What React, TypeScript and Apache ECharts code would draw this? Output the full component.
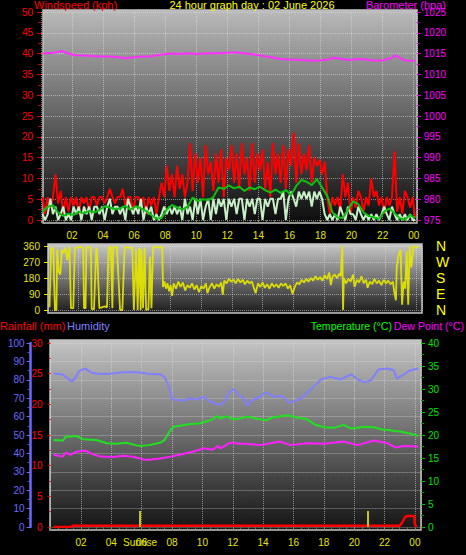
import React, { useEffect, useRef } from 'react';
import * as echarts from 'echarts';

const TITLE = '24 hour graph day : 02 June 2026';

// Wind: 10-minute samples starting 00:06
const WIND_START = 0.1;
const WIND_STEP = 1 / 6;
const gustValues = [
  5.5, 1.5, 5.5, 3, 5.5, 11,
  4, 7, 1.5, 5.5, 2, 5.5,
  3.5, 5.5, 1.5, 5.5, 4, 5.5,
  2, 5.5, 5.5, 3.5, 5.5, 5.5,
  4, 5.5, 7.5, 5.5, 4, 5.5,
  5.5, 7.5, 3.5, 5.5, 5.5, 2,
  5.5, 5.5, 4, 5.5, 1.5, 5.5,
  3.5, 5.5, 1.5, 5.5, 9, 5.5,
  13, 7, 11, 5.5, 13, 7.5,
  11, 5.5, 9, 18.5, 7, 16,
  9, 15, 5.5, 18, 11, 14,
  7, 16, 9, 17, 5.5, 15,
  12, 18, 9, 16, 7.5, 18.5,
  11, 15, 7, 18.5, 9, 16,
  12, 17, 7.5, 14, 5.5, 18.5,
  11, 16, 9, 18, 7.5, 17,
  13, 21, 9, 18.5, 11, 16,
  12, 18, 9, 15, 13, 14.5,
  11, 14, 5.5, 1.5, 5.5, 3.5,
  5.5, 2, 11, 5.5, 9, 1.5,
  5.5, 3, 7, 5.5, 2, 5.5,
  3.5, 10, 5.5, 7, 3.5, 5.5,
  1.5, 5.5, 3.5, 5.5, 16.5, 2,
  5.5, 1.5, 7, 5.5, 3, 5.5,
  0.5,
];
const speedValues = [
  1.4, 0, 1.4, 5.1, 1.4, 3.2,
  0, 1.4, 3.2, 0, 1.4, 0,
  3.2, 1.4, 3.2, 0, 3.2, 1.4,
  3.2, 0, 3.2, 3.2, 1.4, 3.2,
  0, 3.2, 5.1, 1.4, 3.2, 3.2,
  1.4, 3.2, 0, 5.1, 3.2, 1.4,
  3.2, 1.4, 5.1, 0, 3.2, 1.4,
  3.2, 0, 1.4, 0, 1.4, 3.2,
  1.4, 3.2, 1.4, 3.2, 1.4, 3.2,
  0, 5.1, 1.4, 3.2, 0, 5.1,
  1.4, 5.1, 0, 3.2, 5.1, 0,
  5.1, 1.4, 5.1, 3.2, 5.1, 0,
  5.1, 3.2, 5.1, 1.4, 5.1, 5.1,
  0, 5.1, 3.2, 5.1, 1.4, 5.1,
  5.1, 0, 5.1, 3.2, 5.1, 5.1,
  1.4, 5.1, 5.1, 6.8, 0, 5.1,
  6.8, 5.1, 3.2, 6.8, 5.1, 6.8,
  5.1, 6.8, 3.2, 6.8, 5.1, 6.8,
  5.1, 1.4, 0, 1.4, 0, 1.4,
  0, 3.2, 1.4, 0, 3.2, 1.4,
  1.4, 0, 3.2, 1.4, 0, 1.4,
  0, 1.4, 0, 1.4, 0, 1.4,
  3.2, 1.4, 0, 3.2, 1.4, 0,
  1.4, 0, 1.4, 0, 1.4, 0,
  0,
];
// Average wind: 20-minute samples starting 00:06
const AVG_STEP = 1 / 3;
const avgValues = [
  2.0, 3.2, 3.5, 1.8, 1.0, 1.5, 1.2, 2.0, 1.6, 2.2, 1.8, 2.4,
  3.3, 3.0, 2.6, 2.8, 3.4, 2.5, 3.3, 2.8, 2.2, 1.2, 0.3, 0.5,
  2.5, 3.6, 3.0, 2.5, 3.2, 5.4, 4.5, 5.0, 4.8, 5.5, 7.8, 7.5,
  8.3, 7.6, 8.0, 7.0, 7.8, 7.4, 8.0, 7.2, 6.6, 7.3, 6.5, 7.2,
  6.0, 8.2, 9.6, 9.2, 8.4, 9.8, 7.8, 5.8, 1.8, 0.6, 0.5, 2.5,
  4.5, 3.8, 1.8, 1.0, 0.6, 0.3, 2.0, 2.8, 1.6, 0.4, 0.1, 1.2,
  0.5,
];
const baroPoints: [number, number][] = [
  [0.1, 1015.0], [0.8, 1015.2], [1.4, 1015.6], [1.6, 1015.2], [2.0, 1014.8], [2.3, 1014.6],
  [3.0, 1014.5], [3.8, 1014.3], [4.5, 1014.3], [5.0, 1014.1], [5.4, 1013.9], [6.0, 1014.1],
  [6.4, 1014.3], [7.0, 1014.3], [7.5, 1014.6], [8.0, 1014.9], [8.5, 1015.0], [9.0, 1014.9],
  [9.5, 1015.1], [10.0, 1014.9], [10.5, 1015.0], [11.0, 1015.1], [11.5, 1015.1], [12.0, 1015.2],
  [12.4, 1015.3], [13.0, 1015.1], [13.5, 1014.9], [14.0, 1014.6], [14.5, 1014.3], [15.0, 1014.0],
  [15.4, 1013.7], [16.0, 1013.6], [16.5, 1013.5], [17.0, 1013.4], [17.5, 1013.3], [18.0, 1013.4],
  [18.5, 1013.6], [18.8, 1014.0], [19.2, 1013.8], [19.6, 1013.5], [20.0, 1013.5], [20.5, 1013.7],
  [21.0, 1013.5], [21.5, 1013.3], [22.0, 1013.4], [22.5, 1013.8], [22.8, 1014.6], [23.1, 1014.0],
  [23.3, 1013.5], [23.7, 1013.3], [24.1, 1013.3],
];
const dirPoints: [number, number][] = [
  [0.1, 15], [0.2, 350], [0.35, 345], [0.45, 0], [0.55, 0], [0.6, 340], [0.7, 215], [0.8, 200],
  [0.9, 340], [1.0, 320], [1.15, 350], [1.25, 280], [1.4, 355], [1.5, 10], [1.65, 10], [1.75, 350],
  [2.0, 352], [2.2, 355], [2.3, 345], [2.35, 10], [2.45, 10], [2.5, 350], [2.7, 355], [2.8, 345],
  [2.85, 5], [3.0, 5], [3.15, 350], [3.2, 340], [3.35, 10], [3.5, 15], [3.7, 20], [3.85, 15],
  [3.95, 350], [4.1, 355], [4.2, 10], [4.25, 350], [4.5, 355], [4.7, 0], [4.85, 0], [5.0, 355],
  [5.3, 350], [5.5, 350], [5.6, 0], [5.75, 340], [5.85, 0], [5.95, 350], [6.05, 0], [6.1, 340],
  [6.2, 10], [6.3, 350], [6.4, 0], [6.55, 5], [6.65, 300], [6.75, 10], [6.85, 350], [7.0, 355],
  [7.3, 350], [7.45, 355],
  [7.5, 130], [7.6, 160], [7.7, 120], [7.8, 150], [7.9, 105], [8.0, 140], [8.1, 80], [8.2, 150],
  [8.35, 120], [8.5, 160], [8.65, 130], [8.8, 155], [8.95, 110], [9.1, 140], [9.25, 125], [9.4, 150],
  [9.55, 115], [9.7, 140], [9.85, 100], [10.0, 135], [10.15, 120], [10.3, 150], [10.4, 95], [10.55, 130],
  [10.7, 150], [10.85, 120], [11.0, 145], [11.15, 130], [11.3, 155], [11.4, 85], [11.5, 165], [11.65, 150],
  [11.8, 175], [11.95, 160], [12.1, 170], [12.25, 150], [12.4, 175], [12.55, 155], [12.7, 170], [12.85, 145],
  [13.0, 165], [13.15, 150], [13.3, 160], [13.45, 120], [13.55, 95], [13.7, 150], [13.85, 130], [14.0, 155],
  [14.15, 125], [14.3, 145], [14.45, 120], [14.6, 150], [14.75, 130], [14.9, 145], [15.05, 125], [15.2, 150],
  [15.35, 135], [15.5, 150], [15.65, 120], [15.8, 140], [15.95, 90], [16.1, 130], [16.25, 155], [16.4, 145],
  [16.55, 170], [16.7, 155], [16.85, 175], [17.0, 160], [17.15, 180], [17.3, 165], [17.45, 190], [17.6, 170],
  [17.75, 185], [17.9, 165], [18.05, 195], [18.2, 175], [18.35, 210], [18.45, 140], [18.55, 185], [18.7, 200],
  [18.85, 180], [19.0, 205], [19.1, 190], [19.2, 360], [19.25, 0], [19.3, 180], [19.45, 150], [19.6, 175],
  [19.75, 160], [19.9, 200], [20.0, 130], [20.15, 170], [20.3, 155], [20.45, 190], [20.6, 150], [20.75, 170],
  [20.85, 125], [21.0, 160], [21.15, 145], [21.3, 175], [21.45, 150], [21.6, 165], [21.75, 140], [21.9, 170],
  [22.05, 150], [22.2, 165], [22.35, 145], [22.5, 160], [22.6, 95], [22.7, 55], [22.75, 240], [22.85, 300],
  [23.0, 340], [23.1, 30], [23.2, 160], [23.3, 120], [23.4, 330], [23.5, 30], [23.6, 360], [23.7, 240],
  [23.85, 360], [24.0, 350], [24.15, 355],
];
const humidityPoints: [number, number][] = [
  [0.2, 83.4], [0.8, 82.9], [1.0, 81.6], [1.4, 79], [1.6, 80.7], [1.9, 84.9], [2.3, 86.1], [2.7, 83.8],
  [3.0, 83.4], [3.5, 83.2], [4.1, 83.4], [4.6, 84], [5.2, 84.2], [5.9, 84], [6.5, 83.2], [7.2, 83],
  [7.5, 81.6], [7.6, 80], [7.9, 73.5], [8.0, 69.5], [8.3, 69], [8.8, 68.8], [9.2, 70], [9.6, 69.2],
  [10.1, 70.8], [10.4, 68.6], [10.7, 67.5], [11.0, 66.8], [11.2, 66.3], [11.5, 68.6], [11.8, 74], [12.1, 74.8],
  [12.3, 72.3], [12.7, 70], [13.0, 65.8], [13.2, 68.6], [13.8, 70.8], [14.2, 73.2], [14.7, 70.8], [15.2, 71.2],
  [15.7, 67.6], [16.0, 68], [16.5, 70], [17.1, 74.4], [17.8, 80.2], [18.4, 81.6], [19.1, 80.2], [19.8, 83],
  [20.3, 79.8], [20.7, 78.6], [21.1, 79.8], [21.6, 85.6], [22.2, 86.1], [22.6, 85.2], [22.8, 80.7], [23.2, 82.5],
  [23.6, 84.9], [24.2, 86.1],
];
const temperaturePoints: [number, number][] = [
  [0.2, 18.9], [0.8, 18.8], [1.0, 19.6], [1.7, 19.8], [2.1, 19.1], [3.0, 18.9], [3.7, 18.2], [4.3, 18.1],
  [5.0, 18.3], [5.6, 17.8], [5.9, 17.6], [6.5, 17.8], [7.2, 18.3], [7.5, 18.9], [7.9, 21.1], [8.1, 21.8],
  [8.5, 22.0], [9.2, 22.4], [9.8, 22.5], [10.5, 23.2], [11.0, 24.1], [11.2, 23.6], [11.6, 24.1], [12.0, 23.4],
  [12.5, 23.6], [12.9, 24.0], [13.5, 23.6], [14.2, 23.2], [14.6, 23.8], [15.6, 24.3], [16.2, 23.8], [16.9, 23.4],
  [17.4, 22.3], [18.0, 21.7], [18.7, 21.6], [19.3, 22.2], [19.8, 21.4], [20.7, 21.8], [21.3, 21.7], [21.8, 21.2],
  [22.2, 21.1], [23.1, 20.7], [23.8, 20.2], [24.2, 19.8],
];
const dewPointPoints: [number, number][] = [
  [0.2, 15.7], [0.8, 15.3], [1.0, 16.2], [1.3, 15.7], [1.7, 16.4], [2.3, 16.6], [2.7, 15.9], [3.3, 15.3],
  [4.1, 15.2], [4.8, 15.5], [5.5, 15.2], [6.1, 14.7], [6.5, 14.6], [7.2, 14.9], [7.9, 15.3], [8.5, 15.7],
  [9.4, 16.4], [10.1, 17.1], [10.7, 16.8], [11.0, 17.6], [11.2, 17.1], [11.8, 18.3], [12.5, 18.1], [12.9, 18.1],
  [13.8, 17.8], [15.1, 18.6], [15.8, 17.8], [16.9, 18.2], [18.0, 18.1], [19.3, 18.6], [20.2, 17.8], [21.3, 18.8],
  [22.2, 18.2], [22.7, 17.3], [23.3, 17.6], [24.2, 17.5],
];
const rainPoints: [number, number][] = [
  [0.2, 0], [1.35, 0], [1.45, 0.2], [23.0, 0.2], [23.2, 0.9], [23.35, 1.6], [23.5, 1.8], [23.95, 1.8],
  [24.0, 0.4], [24.1, 0],
];
const sunTimes = [5.89, 20.9];
const SUN_MARK_HEIGHT = 2.6;
const compassLabels: Record<number, string> = { 0: 'N', 90: 'E', 180: 'S', 270: 'W', 360: 'N' };

const FONT = '"Liberation Sans", Arial, sans-serif';
const YEL = '#e6e600';

const hourFmt = (v: number) => {
  if (v === 0 || Math.abs(v - Math.round(v)) > 0.001 || v > 24.01) return '';
  const h = Math.round(v) % 24;
  return h < 10 ? '0' + h : '' + h;
};
const plainFmt = (v: number) => String(v);

const dotted = { show: true, lineStyle: { color: 'rgba(225,225,225,0.55)', type: 'dotted' as const, width: 1 } };

function bgRect(x: number, y: number, w: number, h: number, c0: string, c1: string) {
  return {
    type: 'rect',
    z: -10,
    silent: true,
    shape: { x, y, width: w, height: h },
    style: {
      fill: new echarts.graphic.LinearGradient(0, 0, 0, 1, [
        { offset: 0, color: c0 },
        { offset: 1, color: c1 },
      ]),
      stroke: '#c4c4c4',
      lineWidth: 1.5,
    },
  };
}

function txt(x: number, y: number, text: string, fill: string, size: number, align: string = 'left') {
  return {
    type: 'text',
    x,
    y,
    z: 10,
    silent: true,
    style: { text, fill, font: `${size}px ${FONT}`, textAlign: align, textVerticalAlign: 'middle' },
  };
}

export default function App() {
  const ref = useRef<HTMLDivElement>(null);
  useEffect(() => {
    if (!ref.current) return;
    const chart = echarts.init(ref.current, null, { renderer: 'svg' });
    const line = (name: string, data: any[], xi: number, yi: number, color: string, width: number, z: number, opacity = 1) => ({
      name,
      type: 'line',
      xAxisIndex: xi,
      yAxisIndex: yi,
      data,
      symbol: 'none',
      z,
      lineStyle: { color, width, opacity },
      itemStyle: { color },
      silent: true,
    });
    const option: any = {
      animation: false,
      backgroundColor: '#000',
      grid: [
        { left: 41, top: 12, width: 375.8, height: 208 },
        { left: 48, top: 246, width: 374, height: 64 },
        { left: 50.6, top: 343, width: 370.4, height: 184 },
      ],
      xAxis: [
        {
          type: 'value', gridIndex: 0, min: 0, max: 24.2, interval: 2,
          axisLine: { show: false, onZero: false },
          axisTick: { show: true, length: 3, lineStyle: { color: '#8a8a40' } },
          minorTick: { show: true, splitNumber: 4, length: 2, lineStyle: { color: '#6a6a40' } },
          splitLine: dotted,
          axisLabel: { color: YEL, fontSize: 10, fontFamily: FONT, margin: 10, formatter: hourFmt, showMaxLabel: false },
        },
        {
          type: 'value', gridIndex: 1, min: 0, max: 24.4, interval: 2,
          axisLine: { show: false, onZero: false }, axisTick: { show: false }, axisLabel: { show: false },
          splitLine: dotted,
        },
        {
          type: 'value', gridIndex: 2, min: 0, max: 24.4, interval: 2,
          axisLine: { show: false, onZero: false },
          axisTick: { show: true, length: 3, lineStyle: { color: '#8a8a40' } },
          minorTick: { show: true, splitNumber: 4, length: 2, lineStyle: { color: '#6a6a40' } },
          splitLine: dotted,
          axisLabel: { color: YEL, fontSize: 10, fontFamily: FONT, margin: 10, formatter: hourFmt, showMaxLabel: false },
        },
      ],
      yAxis: [
        {
          type: 'value', gridIndex: 0, position: 'left', min: 0, max: 50, interval: 5,
          axisLine: { show: false, onZero: false },
          axisTick: { show: true, length: 4, lineStyle: { color: '#e00000' } },
          minorTick: { show: true, splitNumber: 2, length: 3, lineStyle: { color: '#c00000' } },
          splitLine: dotted,
          axisLabel: { color: '#ff0000', fontSize: 10, fontFamily: FONT, margin: 8 },
        },
        {
          type: 'value', gridIndex: 0, position: 'right', min: 975, max: 1025, interval: 5,
          axisLine: { show: false, onZero: false },
          axisTick: { show: true, length: 4, lineStyle: { color: '#e000e0' } },
          minorTick: { show: true, splitNumber: 2, length: 3, lineStyle: { color: '#c000c0' } },
          splitLine: { show: false },
          axisLabel: { color: '#ff00ff', fontSize: 10, fontFamily: FONT, margin: 7, formatter: plainFmt },
        },
        {
          type: 'value', gridIndex: 1, position: 'left', min: 0, max: 360, interval: 90,
          axisLine: { show: false, onZero: false },
          axisTick: { show: true, length: 4, lineStyle: { color: YEL } },
          splitLine: dotted,
          axisLabel: { color: YEL, fontSize: 10, fontFamily: FONT, margin: 8 },
        },
        {
          type: 'value', gridIndex: 1, position: 'right', min: 0, max: 360, interval: 90,
          axisLine: { show: false, onZero: false }, axisTick: { show: false }, splitLine: { show: false },
          axisLabel: { color: '#ffff00', fontSize: 14, fontFamily: FONT, margin: 14, formatter: (v: number) => compassLabels[v] ?? '' },
        },
        {
          type: 'value', gridIndex: 2, position: 'left', offset: 20, min: 0, max: 100, interval: 10,
          axisLine: { show: true, onZero: false, lineStyle: { color: '#6a6aff', width: 2.5 } },
          axisTick: { show: true, length: 4, lineStyle: { color: '#6a6aff' } },
          minorTick: { show: true, splitNumber: 2, length: 3, lineStyle: { color: '#5a5ae0' } },
          splitLine: dotted,
          axisLabel: { color: '#6a6aff', fontSize: 10, fontFamily: FONT, margin: 6 },
        },
        {
          type: 'value', gridIndex: 2, position: 'left', offset: 0, min: 0, max: 30, interval: 5,
          axisLine: { show: false, onZero: false },
          axisTick: { show: true, length: 3, lineStyle: { color: '#e00000' } },
          minorTick: { show: true, splitNumber: 2, length: 2, lineStyle: { color: '#c00000' } },
          splitLine: { show: false },
          axisLabel: { color: '#ff0000', fontSize: 10, fontFamily: FONT, margin: 8 },
        },
        {
          type: 'value', gridIndex: 2, position: 'right', min: 0, max: 40, interval: 5,
          axisLine: { show: false, onZero: false },
          axisTick: { show: true, length: 4, lineStyle: { color: '#00c000' } },
          minorTick: { show: true, splitNumber: 2, length: 3, lineStyle: { color: '#00a000' } },
          splitLine: { show: false },
          axisLabel: { color: '#00e000', fontSize: 10, fontFamily: FONT, margin: 7 },
        },
      ],
      graphic: {
        elements: [
          bgRect(43, 10, 374, 213, '#bababa', '#0c0c0c'),
          bgRect(48, 244, 374, 69, '#c8c8c8', '#1c1c1c'),
          bgRect(50, 340, 371, 190, '#c4c4c4', '#141414'),
          txt(34, 5, 'Windspeed (kph)', '#ff0000', 11),
          txt(252, 5, TITLE, '#ffff00', 11, 'center'),
          txt(446, 5, 'Barometer (hpa)', '#ff00ff', 11, 'right'),
          txt(0, 326, 'Rainfall (mm)', '#ff0000', 11),
          txt(67, 326, 'Humidity', '#8080ff', 11),
          txt(392, 326, 'Temperature (°C)', '#00ff00', 10.6, 'right'),
          txt(464, 326, 'Dew Point (°C)', '#ff00ff', 10.6, 'right'),
          txt(140, 542, 'Sunrise', YEL, 10, 'center'),
        ],
      },
      series: [
        line('Gust', gustValues.map((v, i) => [WIND_START + i * WIND_STEP, v]), 0, 0, '#ff0000', 2, 2),
        line('Wind speed', speedValues.map((v, i) => [WIND_START + i * WIND_STEP, v]), 0, 0, '#c8f0c8', 2, 3),
        line('Average', avgValues.map((v, i) => [WIND_START + i * AVG_STEP, v]), 0, 0, '#10c010', 2, 4),
        line('Barometer', baroPoints, 0, 1, '#ff30ff', 2, 5),
        line('Direction', dirPoints, 1, 2, '#e8e800', 1.8, 3, 0.9),
        line('Humidity', humidityPoints, 2, 4, '#8080ff', 2, 3),
        line('Temperature', temperaturePoints, 2, 6, '#20e020', 2, 3),
        line('Dew Point', dewPointPoints, 2, 6, '#ff20ff', 2, 3),
        line('Rainfall', rainPoints, 2, 5, '#ff0000', 2.5, 4),
        {
          name: 'Sun',
          type: 'lines',
          coordinateSystem: 'cartesian2d',
          xAxisIndex: 2,
          yAxisIndex: 5,
          silent: true,
          z: 5,
          lineStyle: { color: '#c8c800', width: 2, opacity: 1 },
          data: sunTimes.map((t) => ({ coords: [[t, 0], [t, SUN_MARK_HEIGHT]] })),
        },
      ],
    };
    chart.setOption(option);
    return () => chart.dispose();
  }, []);
  return (
    <div
      ref={ref}
      style={{ position: 'fixed', left: 0, top: 0, width: 466, height: 555, background: '#000' }}
    />
  );
}
